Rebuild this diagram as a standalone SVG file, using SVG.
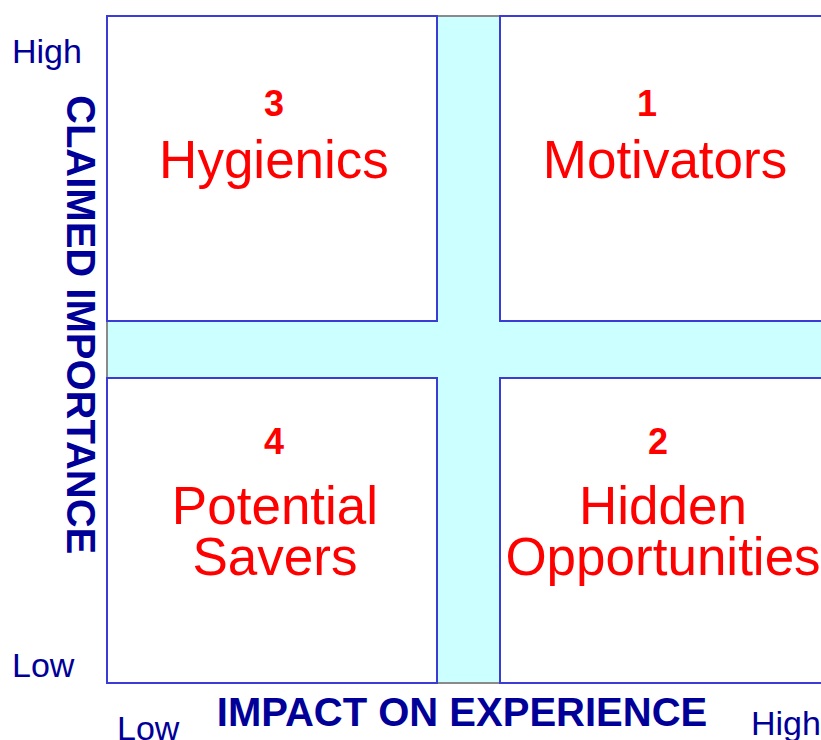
<svg xmlns="http://www.w3.org/2000/svg" width="821" height="740" viewBox="0 0 821 740">
<style>
.q{fill:#ffffff;stroke:#3b3bd6;stroke-width:2}
.ax{font-family:"Liberation Sans",Arial,sans-serif;fill:#000099}
.ttl{font-family:"Liberation Sans",Arial,sans-serif;font-weight:bold;fill:#000099;font-size:40px}
.num{font-family:"Liberation Sans",Arial,sans-serif;font-weight:bold;fill:#ff0000;font-size:36px;text-anchor:middle}
.lbl{font-family:"Liberation Sans",Arial,sans-serif;fill:#ff0000;font-size:53px;text-anchor:middle}
</style>
<rect width="821" height="740" fill="#ffffff"/>
<g id="band">
<rect x="107" y="16" width="730" height="667" fill="#ccffff" stroke="#8a8a8a" stroke-width="2"/>
</g>
<g id="q3">
<rect class="q" x="107" y="16" width="330" height="305"/>
<text class="num" x="274" y="116">3</text>
<text class="lbl" x="274" y="178">Hygienics</text>
</g>
<g id="q1">
<rect class="q" x="500" y="16" width="340" height="305"/>
<text class="num" x="647" y="116">1</text>
<text class="lbl" x="665" y="178">Motivators</text>
</g>
<g id="q4">
<rect class="q" x="107" y="378" width="330" height="305"/>
<text class="num" x="274" y="454">4</text>
<text class="lbl" x="275" y="524">Potential</text>
<text class="lbl" x="275" y="575">Savers</text>
</g>
<g id="q2">
<rect class="q" x="500" y="378" width="340" height="305"/>
<text class="num" x="658" y="454">2</text>
<text class="lbl" x="663" y="524">Hidden</text>
<text class="lbl" x="663" y="575">Opportunities</text>
</g>
<g id="axes">
<text class="ax" x="12" y="63" font-size="34">High</text>
<text class="ax" x="12" y="677" font-size="34">Low</text>
<text class="ax" x="117" y="740" font-size="34">Low</text>
<text class="ax" x="751" y="735" font-size="34">High</text>
<text class="ttl" x="462" y="726" text-anchor="middle">IMPACT ON EXPERIENCE</text>
<text class="ttl" transform="translate(67,95) rotate(90)" x="0" y="0">CLAIMED IMPORTANCE</text>
</g>
</svg>
